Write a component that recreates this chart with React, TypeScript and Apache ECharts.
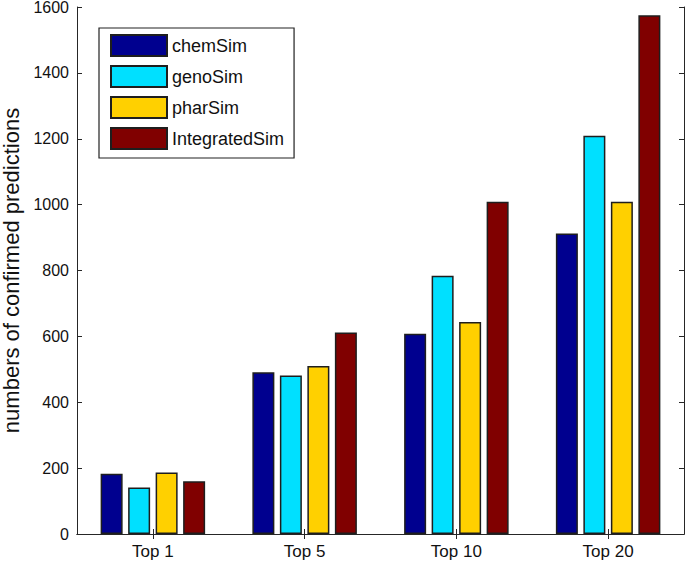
import React, { useEffect, useRef } from "react";
import * as echarts from "echarts";

const categories = ["Top 1", "Top 5", "Top 10", "Top 20"];
const seriesNames = ["chemSim", "genoSim", "pharSim", "IntegratedSim"];
const chemSim = [183, 491, 608, 912];
const genoSim = [141, 481, 784, 1209];
const pharSim = [187, 510, 644, 1009];
const integratedSim = [160, 612, 1009, 1575];
const seriesColors = ["#00008F", "#00E0FF", "#FFD000", "#800000"];
const yTicks = { min: 0, max: 1600, interval: 200 };

export default function App() {
  const ref = useRef<HTMLDivElement>(null);
  useEffect(() => {
    if (!ref.current) return;
    const chart = echarts.init(ref.current, null, { renderer: "svg" });
    const values = [chemSim, genoSim, pharSim, integratedSim];
    const axisLine = { show: true, lineStyle: { color: "#262626", width: 1 } };
    const font = "Liberation Sans, Arial, sans-serif";
    chart.setOption({
      animation: false,
      backgroundColor: "#ffffff",
      grid: { left: 77, right: 1, top: 7, bottom: 29, containLabel: false, outerBoundsMode: "none" },
      legend: {
        orient: "vertical",
        left: 99,
        top: 28,
        padding: [6, 10, 8, 11],
        itemWidth: 56,
        itemHeight: 21,
        itemGap: 8,
        icon: "rect",
        borderColor: "#222",
        borderWidth: 1.2,
        backgroundColor: "#ffffff",
        textStyle: { fontFamily: font, fontSize: 18, color: "#111" },
        data: seriesNames,
      },
      xAxis: [
        {
          type: "category",
          data: categories,
          position: "bottom",
          axisLine,
          axisTick: { show: true, inside: true, alignWithLabel: true, length: 5, lineStyle: { color: "#262626" } },
          axisLabel: { fontFamily: font, fontSize: 17, color: "#111", margin: 9 },
          splitLine: { show: false },
        },
        {
          type: "category",
          data: categories,
          position: "top",
          axisLine,
          axisTick: { show: true, inside: true, alignWithLabel: true, length: 5, lineStyle: { color: "#262626" } },
          axisLabel: { show: false },
          splitLine: { show: false },
        },
      ],
      yAxis: [
        {
          type: "value",
          position: "left",
          min: yTicks.min,
          max: yTicks.max,
          interval: yTicks.interval,
          axisLine,
          axisTick: { show: true, inside: true, length: 5, lineStyle: { color: "#262626" } },
          axisLabel: { fontFamily: font, fontSize: 16, color: "#111", margin: 8, formatter: (v: number) => String(v) },
          splitLine: { show: false },
          name: "numbers of confirmed predictions",
          nameLocation: "middle",
          nameRotate: 90,
          nameGap: 49,
          nameTextStyle: { fontFamily: font, fontSize: 22, color: "#111" },
        },
        {
          type: "value",
          position: "right",
          min: yTicks.min,
          max: yTicks.max,
          interval: yTicks.interval,
          axisLine,
          axisTick: { show: true, inside: true, length: 5, lineStyle: { color: "#262626" } },
          axisLabel: { show: false },
          splitLine: { show: false },
        },
      ],
      series: seriesNames.map((name, i) => ({
        name,
        type: "bar",
        xAxisIndex: 0,
        yAxisIndex: 0,
        data: values[i],
        barWidth: 22,
        barGap: "25%",
        itemStyle: { color: seriesColors[i], borderColor: "#1e1e1e", borderWidth: 1.5 },
      })),
    });
    return () => chart.dispose();
  }, []);
  return (
    <div
      ref={ref}
      style={{ position: "absolute", left: 0, top: 0, width: 685, height: 563, background: "#fff" }}
    />
  );
}
